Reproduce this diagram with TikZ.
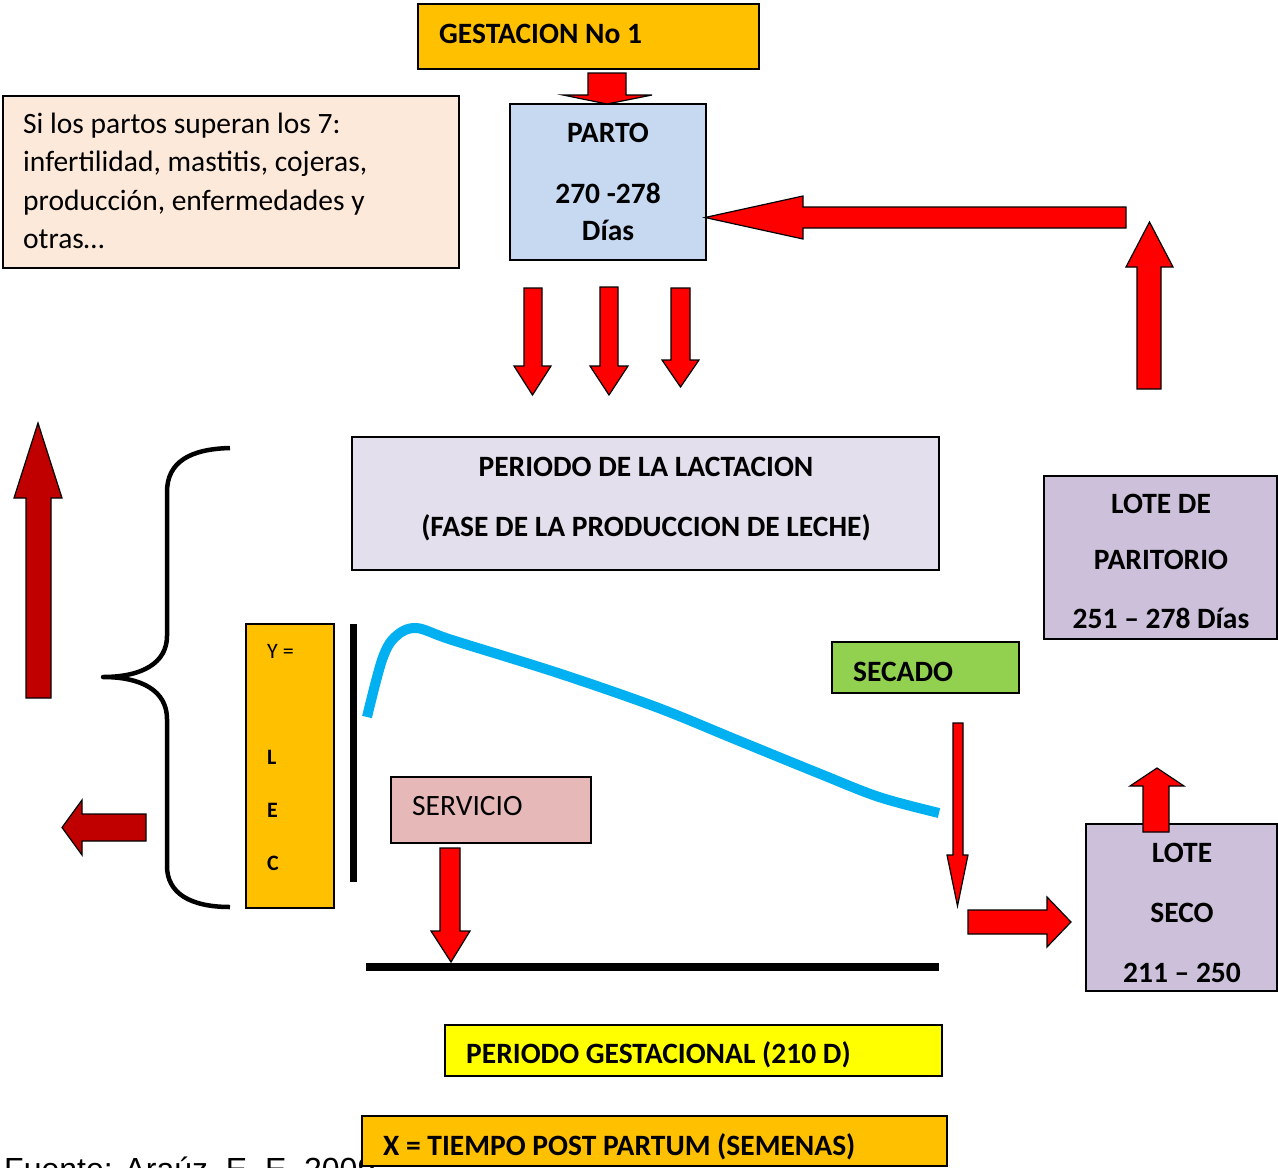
\documentclass[tikz,border=0pt]{standalone}
\usepackage{fontspec}
\setmainfont{Carlito}
\newfontfamily\sourcefont{Liberation Sans}
\definecolor{gold}{HTML}{FFC000}
\definecolor{partoblue}{HTML}{C6D9F1}
\definecolor{peach}{HTML}{FDE9D9}
\definecolor{lavender}{HTML}{E4DFEC}
\definecolor{lilac}{HTML}{CCC0DA}
\definecolor{leafgreen}{HTML}{92D050}
\definecolor{rosepink}{HTML}{E6B9B8}
\definecolor{brightyellow}{HTML}{FFFF00}
\definecolor{arrowred}{HTML}{FF0000}
\definecolor{darkred}{HTML}{C00000}
\definecolor{curveblue}{HTML}{00B0F0}
\begin{document}
\begin{tikzpicture}[x=1pt,y=-1pt,
  box/.style={draw=black, line width=1.6pt, inner sep=0pt},
  txt/.style={inner sep=0pt, font=\fontsize{29.5}{38.3}\selectfont},
  txtb/.style={inner sep=0pt, font=\fontsize{29.5}{#1}\selectfont\bfseries},
  txtb/.default=38.3,
  blk/.style={fill=arrowred, draw=black, line width=1.2pt, line join=miter},
  blkdark/.style={blk, fill=darkred}]
\useasboundingbox (0,0) rectangle (1278,1168);
\clip (0,0) rectangle (1278,1168);

% source line (partly hidden by the bottom box)
\node[inner sep=0pt, anchor=base west, font=\sourcefont\fontsize{32}{38}\selectfont] (fuente) at (4,1180) {Fuente: Araúz, E. E. 2009};

% boxes
\node[box, fill=gold, minimum width=341pt, minimum height=65pt] (gest) at (588.5,36.5) {};
\node[box, fill=partoblue, minimum width=196pt, minimum height=156pt] (parto) at (608,182) {};
\node[box, fill=peach, minimum width=456pt, minimum height=172pt] (nota) at (231,182) {};
\node[box, fill=lavender, minimum width=587pt, minimum height=133pt] (lact) at (645.5,503.5) {};
\node[box, fill=lilac, minimum width=233pt, minimum height=163pt] (parit) at (1160.5,557.5) {};
\node[box, fill=gold, minimum width=88pt, minimum height=284pt] (ybox) at (290,766) {};
\node[box, fill=rosepink, minimum width=200pt, minimum height=66pt] (serv) at (491,810) {};
\node[box, fill=leafgreen, minimum width=187pt, minimum height=51pt] (secado) at (925.5,667.5) {};
\node[box, fill=lilac, minimum width=191pt, minimum height=167pt] (seco) at (1181.5,907.5) {};
\node[box, fill=brightyellow, minimum width=497pt, minimum height=51pt] (pgest) at (693.5,1050.5) {};
\node[box, fill=gold, minimum width=585pt, minimum height=50pt] (xaxis) at (654.5,1141) {};

% box texts
\node[txtb, anchor=base west] (gestT) at (439,43.3) {GESTACION No 1};
\node[txtb=37, anchor=base, text width=196pt, align=flush center] (partoT) at (608,142) {PARTO\\[24pt]270 -278\\Días};
\node[txt, anchor=base west, text width=440pt, align=flush left] (notaT) at (23,133.5) {Si los partos superan los 7:\\infertilidad, mastitis, cojeras,\\producción, enfermedades y\\otras…};
\node[txtb=60, anchor=base, text width=587pt, align=flush center] (lactT) at (646,476) {PERIODO DE LA LACTACION\\(FASE DE LA PRODUCCION DE LECHE)};
\node[txtb=56, anchor=base, text width=233pt, align=flush center] (paritT) at (1161,513) {LOTE DE\\PARITORIO\\[3pt]251 – 278 Días};
\node[txt, anchor=base west, text width=60pt, align=flush left, font=\fontsize{22}{53}\selectfont] (ybT) at (267,658) {Y =\\[53pt]\textbf{L}\\\textbf{E}\\\textbf{C}};
\node[txt, anchor=base west] (servT) at (412,815) {SERVICIO};
\node[txtb, anchor=base west] (secadoT) at (853,681) {SECADO};
\node[txtb=60, anchor=base, text width=191pt, align=flush center] (secoT) at (1182,862) {LOTE\\SECO\\211 – 250};
\node[txtb, anchor=base west] (pgestT) at (466,1063) {PERIODO GESTACIONAL (210 D)};
\node[txtb, anchor=base west] (xaxisT) at (383,1155) {X = TIEMPO POST PARTUM (SEMENAS)};

% axes of the lactation curve
\draw[line width=7pt] (353,624) -- (353,882);
\draw[line width=8.5pt] (366,967) -- (939,967);

% lactation curve
\draw[curveblue, line width=10pt] plot[smooth, tension=0.55] coordinates
  {(367,717) (382,660) (395,637) (416,628) (452,640) (558,673) (656,707) (737,740) (818,773) (879,797) (939,813)};

% brace
\draw[line width=4.5pt, line join=round] (230,448) .. controls (190,449) and (167,462) .. (167,492)
  -- (167,636) .. controls (167,663) and (142,677) .. (103,677)
  .. controls (142,677) and (167,691) .. (167,719)
  -- (167,866) .. controls (167,893) and (190,907) .. (230,907);

% block arrows
\draw[blk] (588,73) -- (626,73) -- (626,95) -- (652,95) -- (607,104) -- (563,95) -- (588,95) -- cycle;
\draw[blk] (1126,207) -- (803,207) -- (803,196) -- (705,217.5) -- (803,239) -- (803,228) -- (1126,228) -- cycle;
\draw[blk] (1137,389) -- (1137,267) -- (1126,267) -- (1149.5,222) -- (1173,267) -- (1161,267) -- (1161,389) -- cycle;
\draw[blk] (524,288) -- (542,288) -- (542,366) -- (551,366) -- (532.5,395) -- (514,366) -- (524,366) -- cycle;
\draw[blk] (600,287) -- (618,287) -- (618,366) -- (628,366) -- (609,395) -- (590,366) -- (600,366) -- cycle;
\draw[blk] (671,288) -- (690,288) -- (690,360) -- (699,360) -- (680.5,387) -- (662,360) -- (671,360) -- cycle;
\draw[blk] (440,848) -- (460,848) -- (460,931) -- (470,931) -- (451,962) -- (431,931) -- (440,931) -- cycle;
\draw[blk] (953,723) -- (963,723) -- (963,855) -- (968,855) -- (957.5,906) -- (947,855) -- (953,855) -- cycle;
\draw[blk] (968,910) -- (1047,910) -- (1047,897) -- (1071,922) -- (1047,947) -- (1047,934) -- (968,934) -- cycle;
\draw[blk] (1143,832) -- (1143,786) -- (1130,786) -- (1157,768) -- (1184,786) -- (1169,786) -- (1169,832) -- cycle;
\draw[blkdark] (26,698) -- (26,498) -- (14,498) -- (38,423) -- (62,498) -- (51,498) -- (51,698) -- cycle;
\draw[blkdark] (146,814) -- (82,814) -- (82,800) -- (62,827.5) -- (82,855) -- (82,841) -- (146,841) -- cycle;
\end{tikzpicture}
\end{document}
